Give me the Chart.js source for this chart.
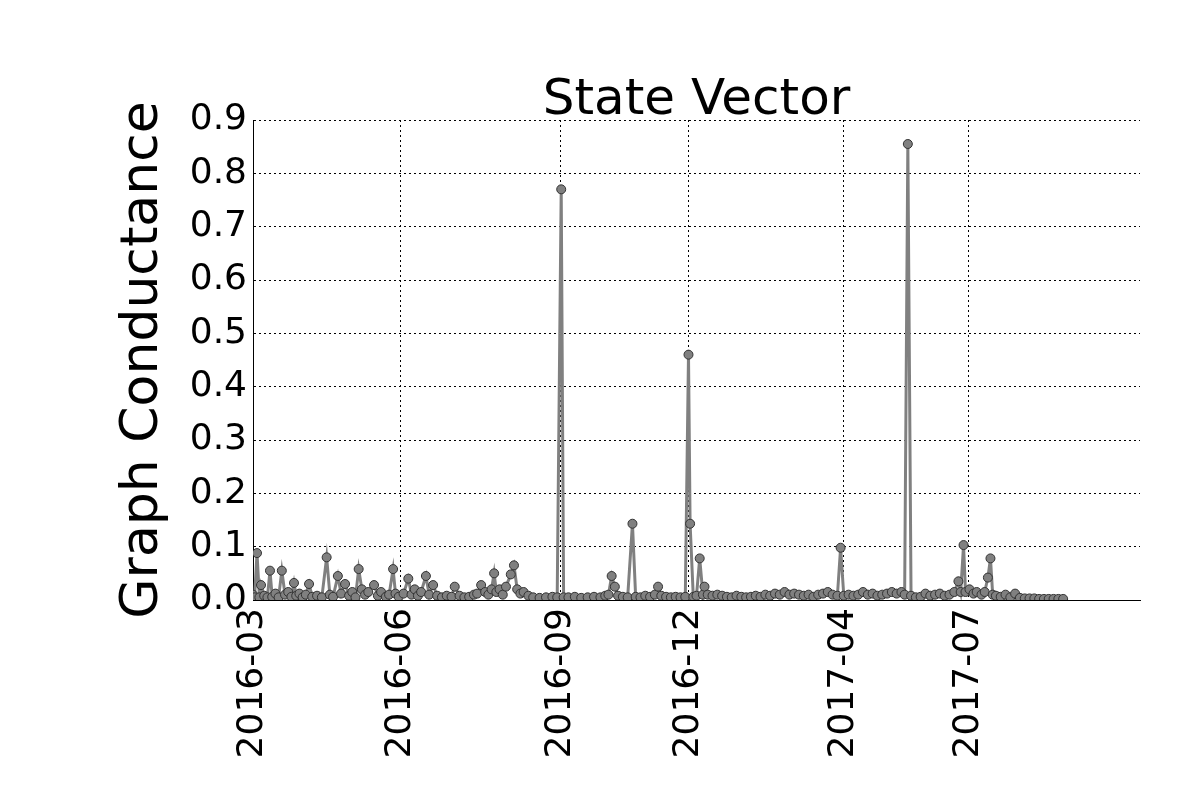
<!DOCTYPE html>
<html>
<head>
<meta charset="utf-8">
<script src="https://cdn.jsdelivr.net/npm/chart.js@4.4.0/dist/chart.umd.min.js"></script>
<style>
  html, body { margin: 0; padding: 0; background: #fff; }
  #wrap { width: 1200px; height: 800px; }
</style>
</head>
<body>
<div id="wrap"><canvas id="chart" width="1200" height="800"></canvas></div>
<script>
// day index since 2016-03 start
const days = [0,1,2.5,4,5,7,9,10.6,12,14,16,18,20,22,24,25.6,27,29,31,33,35,37,40,43,46,48,50,53,55,57.5,60,62,64,66,68,70,72,75.6,78,80,83,85,87.5,89,91,94,97,99,101,103,105,108,110,112.5,115,118,121,124,126,129,132,135,138,140,142.5,145,147,149,150.6,152,154,156,158,161,163,165,167,169,172,
  175,179,183,187,190,192.5,194,197,201,205,209,213,217,220,222,224,226,228,231,234,237,239,242,245,248,251,253,255,258,261,264,267,270,272,273,275,277,279,281,282,284,287,290,293,296,299,302,305,308,311,314,317,320,323,326,329,332,335,338,341,344,347,350,353,356,359,362,365,367,369,372,375,378,381,384,387,390,393,396,399,402,405,407,409,411,414,417,420,423,426,429,432,435,438,440.6,442,443.8,445,447.5,450,452,455,457,459,460.6,462,464,467,470,473,476,479,482,485,488,491,494,497,500,503,506];
const values = [0.01,0.005,0.088,0.005,0.028,0.008,0.005,0.055,0.006,0.012,0.005,0.055,0.01,0.015,0.006,0.032,0.008,0.012,0.005,0.01,0.03,0.006,0.008,0.005,0.08,0.01,0.006,0.045,0.012,0.03,0.008,0.015,0.005,0.058,0.02,0.01,0.015,0.028,0.008,0.015,0.006,0.01,0.058,0.012,0.006,0.012,0.04,0.01,0.02,0.008,0.015,0.045,0.01,0.028,0.008,0.005,0.008,0.006,0.025,0.008,0.005,0.006,0.01,0.012,0.028,0.015,0.01,0.02,0.05,0.015,0.02,0.01,0.025,0.048,0.065,0.02,0.012,0.015,0.008,
  0.005,0.004,0.005,0.006,0.005,0.77,0.005,0.005,0.006,0.004,0.005,0.006,0.005,0.008,0.01,0.045,0.025,0.008,0.006,0.005,0.143,0.006,0.005,0.008,0.006,0.01,0.025,0.008,0.006,0.005,0.006,0.005,0.006,0.46,0.143,0.006,0.008,0.078,0.01,0.025,0.01,0.008,0.01,0.008,0.006,0.005,0.008,0.006,0.005,0.006,0.008,0.006,0.01,0.008,0.012,0.01,0.015,0.01,0.012,0.01,0.008,0.01,0.006,0.01,0.012,0.015,0.01,0.008,0.098,0.008,0.01,0.008,0.01,0.015,0.01,0.012,0.008,0.01,0.012,0.015,0.012,0.015,0.01,0.855,0.008,0.005,0.006,0.012,0.008,0.01,0.012,0.008,0.01,0.015,0.035,0.015,0.103,0.015,0.02,0.012,0.015,0.01,0.015,0.042,0.078,0.01,0.008,0.006,0.01,0.005,0.012,0.004,0.003,0.003,0.003,0.002,0.002,0.002,0.002,0.002,0.002];
const tickPos = [0, 92, 192, 272, 369, 447];
const tickLabels = ['2016-03', '2016-06', '2016-09', '2016-12', '2017-04', '2017-07'];
const titleText = 'State Vector';

const font = 'DejaVu Sans';
const points = days.map((d, i) => ({ x: d, y: values[i] }));

// title centred over the plot area, like matplotlib does
const plotTitle = {
  id: 'plotTitle',
  afterDraw: chart => {
    const ctx = chart.ctx, a = chart.chartArea;
    ctx.save();
    ctx.font = '50px "' + font + '"';
    ctx.fillStyle = '#000';
    ctx.textAlign = 'center';
    ctx.textBaseline = 'alphabetic';
    ctx.fillText(titleText, (a.left + a.right) / 2, a.top - 6);
    ctx.restore();
  }
};

new Chart(document.getElementById('chart').getContext('2d'), {
  type: 'line',
  data: {
    datasets: [{
      data: points,
      borderColor: '#808080',
      borderWidth: 3,
      pointBackgroundColor: '#808080',
      pointBorderColor: '#333',
      pointBorderWidth: 1,
      pointRadius: 4.5,
      tension: 0
    }]
  },
  options: {
    responsive: false,
    animation: false,
    layout: { padding: { left: 112, right: 60, top: 120, bottom: 0 } },
    plugins: {
      legend: { display: false },
      tooltip: { enabled: false }
    },
    scales: {
      x: {
        type: 'linear',
        min: 0,
        max: 554,
        afterBuildTicks: axis => { axis.ticks = tickPos.map(v => ({ value: v })); },
        afterFit: axis => { axis.height = 200; },
        ticks: {
          color: '#000',
          font: { family: font, size: 36 },
          minRotation: 90,
          maxRotation: 90,
          autoSkip: false,
          padding: 8,
          callback: v => tickLabels[tickPos.indexOf(v)]
        },
        grid: { color: '#000', lineWidth: 1, drawTicks: false },
        border: { color: '#000', width: 1, dash: [2, 3] }
      },
      y: {
        min: 0,
        max: 0.9,
        afterFit: axis => { axis.width = 141; },
        ticks: {
          stepSize: 0.1,
          color: '#000',
          font: { family: font, size: 36 },
          padding: 6,
          callback: v => v.toFixed(1)
        },
        title: {
          display: true,
          text: 'Graph Conductance',
          color: '#000',
          font: { family: font, size: 52 },
          padding: 0
        },
        grid: { color: '#000', lineWidth: 1, drawTicks: false },
        border: { color: '#000', width: 1, dash: [2, 3] }
      }
    }
  },
  plugins: [plotTitle]
});
</script>
</body>
</html>
